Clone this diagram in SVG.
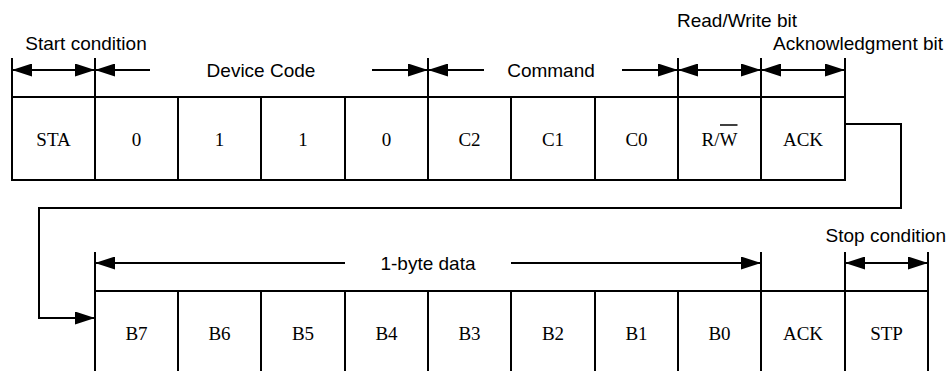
<svg xmlns="http://www.w3.org/2000/svg" width="947" height="371" viewBox="0 0 947 371">
<style>
.ln{stroke:#000;stroke-width:2;fill:none}
.cell{font-family:"Liberation Serif","Times New Roman",serif;font-size:19px;text-anchor:middle;fill:#000}
.lbl{font-family:"Liberation Sans",Arial,sans-serif;font-size:19px;fill:#000}
.mid{text-anchor:middle}
.dim{stroke:#000;stroke-width:2;fill:none;marker-end:url(#ah)}
.dbl{stroke:#000;stroke-width:2;fill:none;marker-start:url(#ah);marker-end:url(#ah)}
</style>
<defs>
<marker id="ah" markerUnits="userSpaceOnUse" markerWidth="20" markerHeight="13" refX="20" refY="6.5" orient="auto-start-reverse">
<path d="M0,0 L20,6.5 L0,13 Z" fill="#000"/>
</marker>
</defs>
<rect width="947" height="371" fill="#fff"/>

<g id="top-row">
<rect class="ln" x="12" y="97" width="833" height="83"/>
<path class="ln" d="M12,58V97 M95,58V180 M178,97V180 M261,97V180 M345,97V180 M428,58V180 M511,97V180 M595,97V180 M678,58V180 M761,58V180 M845,58V97"/>
</g>
<g id="cell-STA"><text class="cell" x="53.5" y="146">STA</text></g>
<g id="cell-D3"><text class="cell" x="136.5" y="146">0</text></g>
<g id="cell-D2"><text class="cell" x="219.5" y="146">1</text></g>
<g id="cell-D1"><text class="cell" x="303" y="146">1</text></g>
<g id="cell-D0"><text class="cell" x="386.5" y="146">0</text></g>
<g id="cell-C2"><text class="cell" x="469.5" y="146">C2</text></g>
<g id="cell-C1"><text class="cell" x="553" y="146">C1</text></g>
<g id="cell-C0"><text class="cell" x="636.5" y="146">C0</text></g>
<g id="cell-RW"><text class="cell" x="719.5" y="146">R/W</text><line x1="720" y1="125" x2="737.5" y2="125" stroke="#000" stroke-width="1.5"/></g>
<g id="cell-ACK1"><text class="cell" x="803" y="146">ACK</text></g>

<g id="bottom-row">
<path class="ln" d="M95,291H928 M95,252V371 M178,291V371 M261,291V371 M345,291V371 M428,291V371 M511,291V371 M595,291V371 M678,291V371 M761,252V371 M845,252V371 M928,252V371"/>
</g>
<g id="cell-B7"><text class="cell" x="136.5" y="340">B7</text></g>
<g id="cell-B6"><text class="cell" x="219.5" y="340">B6</text></g>
<g id="cell-B5"><text class="cell" x="303" y="340">B5</text></g>
<g id="cell-B4"><text class="cell" x="386.5" y="340">B4</text></g>
<g id="cell-B3"><text class="cell" x="469.5" y="340">B3</text></g>
<g id="cell-B2"><text class="cell" x="553" y="340">B2</text></g>
<g id="cell-B1"><text class="cell" x="636.5" y="340">B1</text></g>
<g id="cell-B0"><text class="cell" x="719.5" y="340">B0</text></g>
<g id="cell-ACK2"><text class="cell" x="803" y="340">ACK</text></g>
<g id="cell-STP"><text class="cell" x="886.5" y="340">STP</text></g>

<g id="labels">
<text class="lbl mid" x="86" y="50">Start condition</text>
<text class="lbl mid" x="261" y="77">Device Code</text>
<text class="lbl mid" x="551" y="77">Command</text>
<text class="lbl mid" x="737" y="27">Read/Write bit</text>
<text class="lbl mid" x="858" y="50">Acknowledgment bit</text>
<text class="lbl mid" x="428" y="270">1-byte data</text>
<text class="lbl" x="946" y="242" text-anchor="end">Stop condition</text>
</g>

<g id="connectors">
<line class="dbl" x1="12" y1="70" x2="95" y2="70"/>
<line class="dim" x1="150" y1="70" x2="95" y2="70"/>
<line class="dim" x1="372" y1="70" x2="428" y2="70"/>
<line class="dim" x1="484" y1="70" x2="428" y2="70"/>
<line class="dim" x1="622" y1="70" x2="678" y2="70"/>
<line class="dbl" x1="678" y1="70" x2="761" y2="70"/>
<line class="dbl" x1="761" y1="70" x2="845" y2="70"/>
<line class="dim" x1="345" y1="263" x2="95" y2="263"/>
<line class="dim" x1="511" y1="263" x2="761" y2="263"/>
<line class="dbl" x1="845" y1="263" x2="928" y2="263"/>
<path class="dim" d="M845,124H901V208H39V318H95"/>
</g>
</svg>
